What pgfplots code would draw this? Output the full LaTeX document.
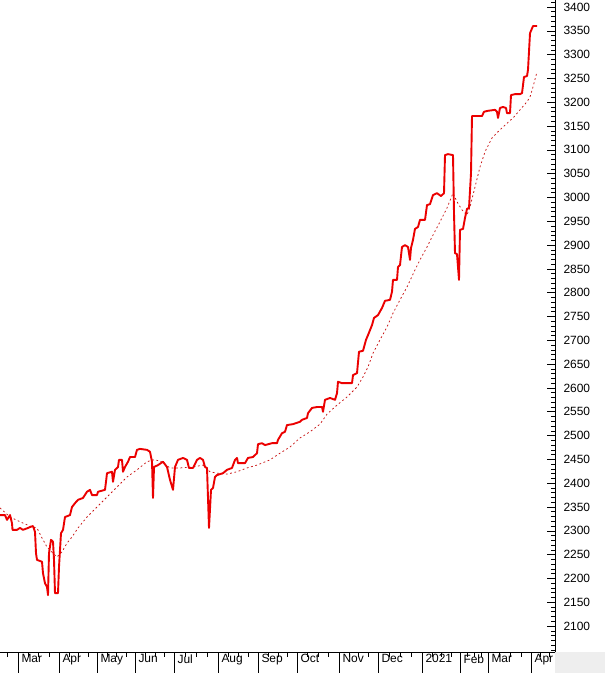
\documentclass[border=0pt]{standalone}
\usepackage{pgfplots}
\pgfplotsset{compat=1.18}
\usepackage{fontspec}
\setmainfont{Liberation Sans}
\definecolor{solidred}{RGB}{235,0,0}
\definecolor{dotred}{RGB}{200,20,20}
\definecolor{panelgray}{RGB}{238,238,238}
\begin{document}
\begin{tikzpicture}
\path[use as bounding box] (0,0) rectangle (605bp,673bp);
\fill[panelgray] (555bp,0) rectangle (605bp,21bp);
\begin{axis}[
  at={(0,21bp)}, anchor=south west,
  scale only axis, width=555bp, height=652bp,
  xmin=0, xmax=555, ymin=2045.5, ymax=3414.7,
  axis x line=bottom, axis y line=right,
  axis line style={-, black, line width=0.8bp},
  clip=false,
  tick align=inside,
  major tick length=8bp, minor tick length=4bp,
  ytick={2100,2150,...,3400},
  minor ytick={2050,2060,...,3410},
  scaled y ticks=false,
  tick style={black, line width=0.6bp},
  yticklabel style={anchor=west, xshift=5bp, font=\fontsize{12}{14}\selectfont,
    /pgf/number format/1000 sep={}, /pgf/number format/assume math mode=true},
  xtick={18,59,97,135,174,218,258,297,339,378,422,460,488,531},
  xticklabels={Mar,Apr,May,Jun,Jul,Aug,Sep,Oct,Nov,Dec,2021,Feb,Mar,Apr},
  xtick style={draw=none},
  xticklabel style={anchor=north west, xshift=0bp, yshift=1bp, font=\fontsize{12}{14}\selectfont},
]
% month separators and weekly ticks
\pgfplotsinvokeforeach{18,59,97,135,174,218,258,297,339,378,422,460,488,531}{
  \draw[black, line width=0.7bp] (axis cs:#1,2045.5) -- ([yshift=-21bp]axis cs:#1,2045.5);
}
\pgfplotsinvokeforeach{7,28,38,49,69,78,88,107,116,126,145,155,164,185,196,207,228,238,248,268,278,287,307,318,328,349,358,368,389,400,411,432,441,451,467,474,481,499,510,521,540,549}{
  \draw[black, line width=0.6bp] (axis cs:#1,2045.5) -- ([yshift=-5bp]axis cs:#1,2045.5);
}
% moving average (dotted)
\addplot[dotred, line width=0.75bp, dash pattern=on 1.8bp off 2.6bp] coordinates {
(0,2348) (10,2329) (20,2319) (32,2308) (37,2306) (42,2285) (47,2266) (53,2253)
(57,2245) (62,2256) (67,2274) (72,2287) (78,2306) (87,2329) (97,2350) (107,2371)
(117,2392) (127,2413) (137,2428) (147,2445) (153,2449) (160,2447) (170,2432)
(180,2432) (193,2434) (203,2438) (210,2424) (217,2421) (227,2419) (237,2424)
(247,2432) (257,2438) (270,2449) (280,2463) (290,2476) (300,2495) (310,2508)
(320,2524) (327,2545) (337,2564) (347,2581) (357,2602) (363,2623) (368,2644)
(373,2673) (380,2701) (387,2728) (393,2757) (400,2785) (407,2812) (415,2848)
(420,2869) (427,2896) (433,2921) (440,2949) (447,2978) (453,3009) (457,2991)
(462,2974) (467,2963) (470,2980) (475,3022) (480,3064) (485,3096) (492,3125)
(498,3138) (505,3152) (513,3167) (520,3184) (527,3201) (530,3211) (533,3232) (537,3264)
};
% price (solid)
\addplot[solidred, line width=1.9bp, line join=round] coordinates {
(0,2333) (5,2333) (7,2323) (10,2333) (12,2316) (12.5,2302) (17,2302) (20,2306)
(23,2302) (28,2306) (30,2308) (33,2310) (35,2298) (36,2253) (37,2239) (42,2235)
(43,2211) (45,2190) (47,2182) (48,2165) (49,2253) (51,2281) (53,2277) (54,2239)
(55,2169) (58,2169) (59,2224) (61,2295) (63,2302) (65,2329) (70,2333) (72,2350)
(75,2358) (78,2365) (83,2369) (87,2382) (90,2386) (92,2375) (97,2375) (98,2382)
(105,2386) (106,2403) (107,2421) (112,2424) (113,2403) (115,2428) (118,2434)
(119,2449) (122,2449) (123,2424) (125,2434) (128,2445) (130,2455) (135,2455)
(137,2470) (140,2472) (147,2470) (150,2466) (152,2445) (153,2369) (154,2434)
(158,2438) (163,2445) (167,2434) (170,2407) (173,2386) (175,2434) (178,2449)
(183,2453) (187,2449) (189,2432) (193,2432) (197,2449) (200,2453) (203,2449)
(205,2434) (207,2432) (208,2369) (209,2306) (211,2386) (213,2390) (215,2413)
(217,2417) (223,2421) (227,2428) (232,2432) (235,2449) (237,2453) (238,2442)
(245,2442) (248,2453) (253,2455) (257,2463) (258,2482) (262,2484) (265,2480)
(272,2484) (277,2484) (278,2491) (282,2505) (285,2508) (287,2522) (293,2524)
(300,2529) (302,2533) (307,2537) (308,2547) (312,2558) (317,2560) (322,2560)
(323,2550) (325,2575) (330,2579) (335,2575) (337,2589) (338,2613) (342,2610)
(352,2610) (353,2627) (357,2631) (359,2676) (363,2678) (366,2701) (368,2711)
(372,2732) (374,2747) (378,2753) (382,2768) (385,2783) (390,2785) (392,2802)
(393,2827) (397,2827) (398,2854) (400,2858) (402,2896) (405,2900) (408,2896)
(410,2869) (411,2894) (413,2911) (415,2934) (418,2938) (420,2953) (425,2953)
(427,2984) (430,2986) (433,3005) (437,3009) (441,3003) (444,3009) (445,3089)
(448,3091) (453,3089) (454,2967) (455,2883) (457,2881) (458,2854) (459,2827)
(460,2932) (463,2934) (465,2957) (467,2976) (469,2978) (471,3051) (472,3171)
(475,3171) (482,3171) (484,3180) (488,3182) (495,3184) (497,3180) (498,3167)
(500,3188) (503,3190) (506,3188) (507,3177) (510,3177) (511,3215) (515,3217)
(520,3217) (522,3219) (524,3253) (527,3255) (528,3268) (530,3345) (533,3360) (537,3360)
};
\end{axis}
\end{tikzpicture}
\end{document}
